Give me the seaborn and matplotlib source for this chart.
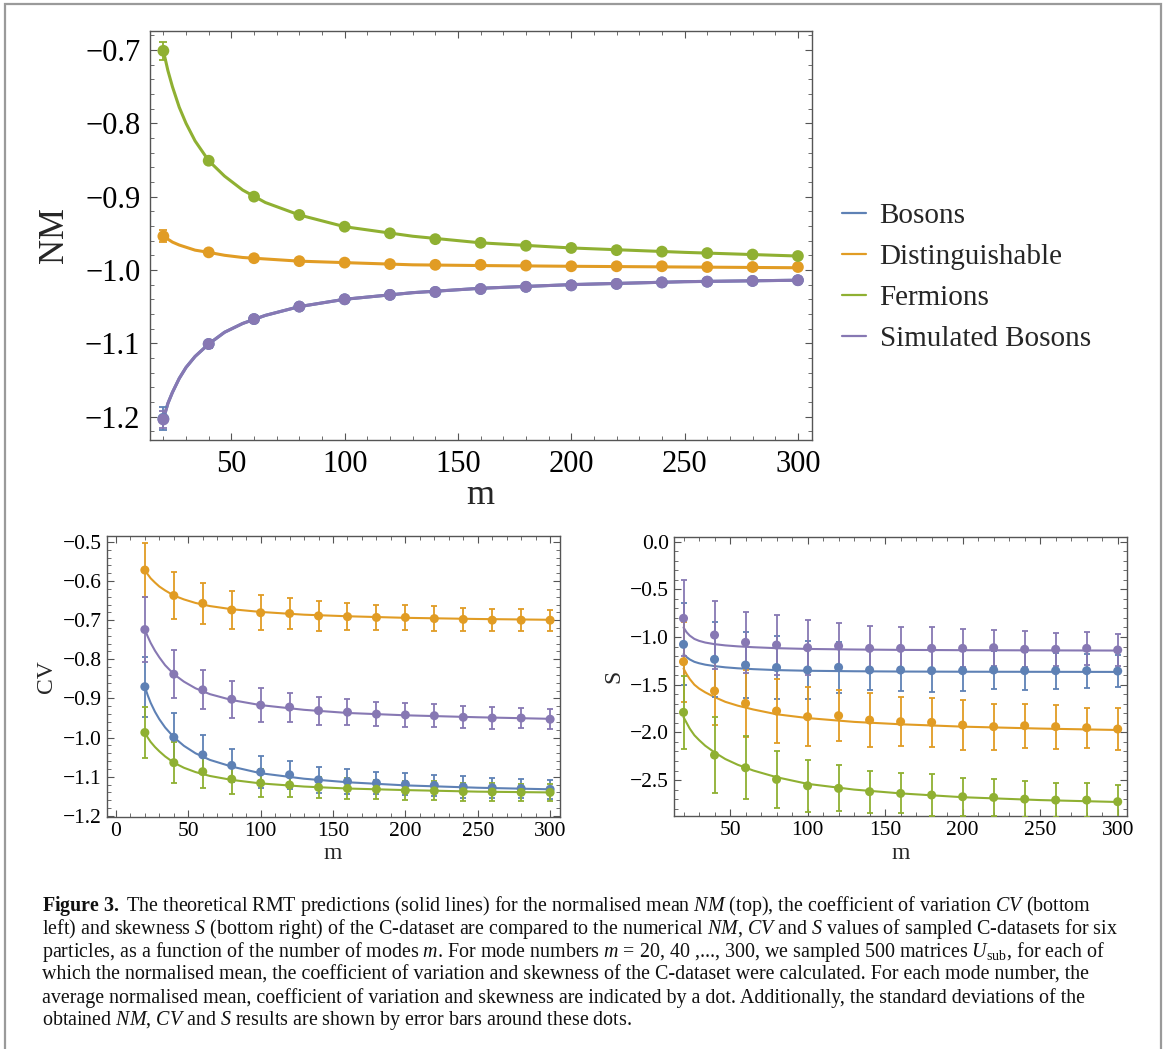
import numpy as np
import pandas as pd
import matplotlib
matplotlib.use("Agg")
import matplotlib.pyplot as plt
from matplotlib.ticker import MultipleLocator, FuncFormatter
from matplotlib.lines import Line2D
from matplotlib.patches import Rectangle
import seaborn as sns

# ---------------- data ----------------
series = ["Bosons", "Distinguishable", "Fermions", "Simulated Bosons"]
colors = ["#5E81B5", "#E19C24", "#8FB032", "#8778B3"]

m = [20, 40, 60, 80, 100, 120, 140, 160, 180, 200, 220, 240, 260, 280, 300]
m_curve = [20, 22, 24, 27, 30, 34, 40, 47, 55, 65, 80, 100, 130, 160, 200, 250, 300]

# Normalised mean NM (dots and error bars)
nm_bos = [-1.203, -1.101, -1.067, -1.050, -1.040, -1.034, -1.030, -1.026, -1.023, -1.021, -1.019, -1.017, -1.016, -1.015, -1.014]
nm_bos_err = [0.016, 0.006, 0.004, 0.003, 0.003, 0.002, 0.002, 0.002, 0.002, 0.002, 0.002, 0.002, 0.002, 0.002, 0.002]
nm_dis = [-0.954, -0.976, -0.984, -0.988, -0.990, -0.992, -0.993, -0.993, -0.994, -0.995, -0.995, -0.995, -0.996, -0.996, -0.996]
nm_dis_err = [0.008, 0.003, 0.002, 0.002, 0.002, 0.002, 0.002, 0.002, 0.002, 0.002, 0.002, 0.002, 0.002, 0.002, 0.002]
nm_fer = [-0.701, -0.851, -0.900, -0.925, -0.941, -0.950, -0.958, -0.963, -0.967, -0.970, -0.973, -0.975, -0.977, -0.979, -0.981]
nm_fer_err = [0.012, 0.004, 0.003, 0.002, 0.002, 0.002, 0.002, 0.002, 0.002, 0.002, 0.002, 0.002, 0.002, 0.002, 0.002]
nm_sim = [-1.204, -1.101, -1.067, -1.050, -1.040, -1.034, -1.030, -1.026, -1.023, -1.021, -1.019, -1.017, -1.016, -1.015, -1.014]
nm_sim_err = [0.012, 0.005, 0.004, 0.003, 0.003, 0.002, 0.002, 0.002, 0.002, 0.002, 0.002, 0.002, 0.002, 0.002, 0.002]

# NM theory curves (read at m_curve)
nm_bos_curve = [-1.203, -1.182, -1.167, -1.148, -1.133, -1.118, -1.101, -1.085, -1.073, -1.062, -1.050, -1.040, -1.031, -1.025, -1.020, -1.016, -1.014]
nm_dis_curve = [-0.954, -0.958, -0.962, -0.966, -0.969, -0.973, -0.976, -0.980, -0.983, -0.985, -0.988, -0.990, -0.993, -0.994, -0.995, -0.996, -0.997]
nm_fer_curve = [-0.701, -0.728, -0.750, -0.778, -0.800, -0.824, -0.851, -0.872, -0.891, -0.908, -0.925, -0.941, -0.954, -0.963, -0.970, -0.976, -0.981]
nm_sim_curve = [-1.204, -1.182, -1.167, -1.148, -1.133, -1.118, -1.101, -1.085, -1.073, -1.062, -1.050, -1.040, -1.031, -1.025, -1.020, -1.016, -1.014]

# Coefficient of variation CV
cv_bos = [-0.870, -0.999, -1.044, -1.071, -1.088, -1.095, -1.108, -1.112, -1.116, -1.119, -1.122, -1.126, -1.128, -1.130, -1.132]
cv_bos_err = [0.077, 0.062, 0.050, 0.043, 0.040, 0.035, 0.033, 0.031, 0.029, 0.028, 0.027, 0.027, 0.026, 0.025, 0.024]
cv_dis = [-0.572, -0.637, -0.657, -0.674, -0.681, -0.683, -0.689, -0.691, -0.693, -0.693, -0.696, -0.698, -0.700, -0.700, -0.700]
cv_dis_err = [0.070, 0.060, 0.053, 0.048, 0.045, 0.040, 0.039, 0.034, 0.033, 0.032, 0.031, 0.029, 0.028, 0.028, 0.027]
cv_fer = [-0.987, -1.064, -1.087, -1.106, -1.116, -1.121, -1.127, -1.130, -1.132, -1.135, -1.136, -1.138, -1.139, -1.140, -1.140]
cv_fer_err = [0.066, 0.052, 0.042, 0.038, 0.035, 0.030, 0.027, 0.026, 0.025, 0.025, 0.024, 0.023, 0.023, 0.022, 0.022]
cv_sim = [-0.724, -0.838, -0.878, -0.902, -0.917, -0.922, -0.931, -0.935, -0.940, -0.942, -0.944, -0.948, -0.950, -0.950, -0.953]
cv_sim_err = [0.083, 0.062, 0.050, 0.047, 0.044, 0.037, 0.036, 0.033, 0.031, 0.031, 0.030, 0.028, 0.027, 0.026, 0.025]

cv_bos_curve = [-0.870, -0.892, -0.911, -0.934, -0.953, -0.974, -0.999, -1.021, -1.040, -1.057, -1.074, -1.091, -1.105, -1.114, -1.122, -1.128, -1.132]
cv_dis_curve = [-0.572, -0.583, -0.593, -0.604, -0.614, -0.624, -0.637, -0.647, -0.656, -0.664, -0.672, -0.679, -0.686, -0.690, -0.694, -0.697, -0.699]
cv_fer_curve = [-0.987, -1.000, -1.011, -1.024, -1.035, -1.048, -1.064, -1.077, -1.088, -1.098, -1.108, -1.117, -1.125, -1.130, -1.134, -1.138, -1.140]
cv_sim_curve = [-0.724, -0.742, -0.758, -0.778, -0.795, -0.815, -0.838, -0.857, -0.874, -0.889, -0.904, -0.917, -0.929, -0.937, -0.943, -0.948, -0.952]

# Skewness S
s_bos = [-1.077, -1.234, -1.294, -1.320, -1.346, -1.318, -1.346, -1.346, -1.353, -1.353, -1.346, -1.353, -1.353, -1.353, -1.357]
s_bos_err = [0.43, 0.39, 0.35, 0.33, 0.30, 0.27, 0.21, 0.22, 0.22, 0.21, 0.20, 0.20, 0.19, 0.18, 0.17]
s_dis = [-1.259, -1.566, -1.696, -1.776, -1.836, -1.825, -1.871, -1.888, -1.895, -1.923, -1.940, -1.930, -1.940, -1.951, -1.965]
s_dis_err = [0.42, 0.36, 0.35, 0.34, 0.31, 0.27, 0.28, 0.26, 0.26, 0.26, 0.24, 0.23, 0.23, 0.21, 0.22]
s_fer = [-1.790, -2.238, -2.371, -2.493, -2.560, -2.587, -2.622, -2.640, -2.657, -2.675, -2.682, -2.700, -2.710, -2.710, -2.727]
s_fer_err = [0.38, 0.40, 0.33, 0.30, 0.27, 0.24, 0.22, 0.21, 0.22, 0.20, 0.19, 0.19, 0.18, 0.18, 0.18]
s_sim = [-0.804, -0.979, -1.056, -1.084, -1.112, -1.094, -1.119, -1.119, -1.119, -1.119, -1.112, -1.129, -1.129, -1.119, -1.136]
s_sim_err = [0.40, 0.36, 0.32, 0.31, 0.29, 0.24, 0.23, 0.22, 0.22, 0.20, 0.19, 0.19, 0.175, 0.17, 0.17]

s_bos_curve = [-1.180, -1.210, -1.235, -1.260, -1.275, -1.290, -1.305, -1.318, -1.328, -1.337, -1.347, -1.354, -1.359, -1.362, -1.364, -1.365, -1.366]
s_dis_curve = [-1.330, -1.390, -1.440, -1.500, -1.540, -1.580, -1.630, -1.680, -1.720, -1.760, -1.810, -1.850, -1.890, -1.915, -1.940, -1.960, -1.975]
s_fer_curve = [-1.840, -1.900, -1.960, -2.030, -2.080, -2.140, -2.210, -2.280, -2.340, -2.400, -2.470, -2.540, -2.600, -2.640, -2.680, -2.710, -2.730]
s_sim_curve = [-0.900, -0.950, -0.985, -1.020, -1.040, -1.058, -1.075, -1.088, -1.098, -1.107, -1.117, -1.125, -1.131, -1.135, -1.138, -1.140, -1.142]

caption_lines = [
    r"$\mathbf{Figure\ 3.}$ The theoretical RMT predictions (solid lines) for the normalised mean $\mathit{NM}$ (top), the coefficient of variation $\mathit{CV}$ (bottom",
    r"left) and skewness $\mathit{S}$ (bottom right) of the C-dataset are compared to the numerical $\mathit{NM}$, $\mathit{CV}$ and $\mathit{S}$ values of sampled C-datasets for six",
    r"particles, as a function of the number of modes $\mathit{m}$. For mode numbers $\mathit{m}$ = 20, 40 ,..., 300, we sampled 500 matrices $\mathit{U}_{\mathrm{sub}}$, for each of",
    r"which the normalised mean, the coefficient of variation and skewness of the C-dataset were calculated. For each mode number, the",
    r"average normalised mean, coefficient of variation and skewness are indicated by a dot. Additionally, the standard deviations of the",
    r"obtained $\mathit{NM}$, $\mathit{CV}$ and $\mathit{S}$ results are shown by error bars around these dots.",
]

# ---------------- style ----------------
sns.set_theme(style="ticks")
plt.rcParams["font.family"] = ["Liberation Serif", "DejaVu Serif"]
plt.rcParams["mathtext.fontset"] = "custom"
plt.rcParams["mathtext.rm"] = "Liberation Serif"
plt.rcParams["mathtext.it"] = "Liberation Serif:italic"
plt.rcParams["mathtext.bf"] = "Liberation Serif:bold"
plt.rcParams["axes.unicode_minus"] = True

W, H = 1168, 1049
fig = plt.figure(figsize=(W / 100, H / 100), dpi=100)
palette = dict(zip(series, colors))


def frac(left, top, right, bottom):
    return [left / W, 1 - bottom / H, (right - left) / W, (bottom - top) / H]


def build(points, errs, curves):
    pts = pd.DataFrame({
        "m": np.tile(m, 4),
        "v": np.concatenate(points),
        "e": np.concatenate(errs),
        "series": np.repeat(series, len(m)),
    })
    cur = pd.DataFrame({
        "m": np.tile(m_curve, 4),
        "v": np.concatenate(curves),
        "series": np.repeat(series, len(m_curve)),
    })
    return pts, cur


def draw(ax, pts, cur, lw, ms, elw, cap):
    sns.lineplot(data=cur, x="m", y="v", hue="series", palette=palette,
                 hue_order=series, ax=ax, legend=False, linewidth=lw,
                 sort=True, estimator=None)
    for s in series:
        d = pts[pts.series == s]
        ax.errorbar(d["m"], d["v"], yerr=d["e"], fmt="none", ecolor=palette[s],
                    elinewidth=elw, capsize=cap, capthick=elw, zorder=3)
    sns.scatterplot(data=pts, x="m", y="v", hue="series", palette=palette,
                    hue_order=series, ax=ax, legend=False, s=ms ** 2,
                    edgecolor="none", zorder=4)


def style_axes(ax, xmaj, xmin, ymaj, ymin, fs, pad):
    ax.xaxis.set_major_locator(MultipleLocator(xmaj))
    ax.xaxis.set_minor_locator(MultipleLocator(xmin))
    ax.yaxis.set_major_locator(MultipleLocator(ymaj))
    ax.yaxis.set_minor_locator(MultipleLocator(ymin))
    ax.yaxis.set_major_formatter(FuncFormatter(
        lambda v, p: ("\u2212" if v < -1e-9 else "") + ("%.1f" % abs(v))))
    ax.xaxis.set_major_formatter(FuncFormatter(lambda v, p: "%d" % round(v)))
    ax.tick_params(which="both", direction="in", top=True, right=True,
                   color="#555555", labelsize=fs, labelcolor="black", pad=pad)
    ax.tick_params(which="major", length=5, width=0.8)
    ax.tick_params(which="minor", length=2.8, width=0.6)
    for sp in ax.spines.values():
        sp.set_color("#555555")
        sp.set_linewidth(1.0)
    ax.set_facecolor("white")


# ---------------- top panel: NM ----------------
ax1 = fig.add_axes(frac(150, 31, 811.5, 440))
pts, cur = build([nm_bos, nm_dis, nm_fer, nm_sim],
                 [nm_bos_err, nm_dis_err, nm_fer_err, nm_sim_err],
                 [nm_bos_curve, nm_dis_curve, nm_fer_curve, nm_sim_curve])
draw(ax1, pts, cur, lw=2.2, ms=8.5, elw=1.3, cap=3)
ax1.set_xlim(14.1, 306)
ax1.set_ylim(-1.232, -0.674)
style_axes(ax1, 50, 10, 0.1, 0.02, 22, 7)
ax1.set_xlabel("m", fontsize=26, labelpad=0)
ax1.set_ylabel("NM", fontsize=25, labelpad=10)

handles = [Line2D([0], [0], color=c, lw=1.6) for c in colors]
fig.legend(handles, series, loc="upper left", bbox_to_anchor=(830 / W, 1 - 191 / H),
           frameon=False, fontsize=21, handlelength=0.85, handletextpad=0.45,
           labelspacing=0.5, borderaxespad=0)

# ---------------- bottom left: CV ----------------
ax2 = fig.add_axes(frac(106.5, 536, 559.8, 816.7))
pts, cur = build([cv_bos, cv_dis, cv_fer, cv_sim],
                 [cv_bos_err, cv_dis_err, cv_fer_err, cv_sim_err],
                 [cv_bos_curve, cv_dis_curve, cv_fer_curve, cv_sim_curve])
draw(ax2, pts, cur, lw=1.5, ms=6.5, elw=1.3, cap=2)
ax2.set_xlim(-6.5, 306.7)
ax2.set_ylim(-1.202, -0.485)
style_axes(ax2, 50, 10, 0.1, 0.02, 15.5, 3.5)
ax2.set_xlabel("m", fontsize=17, labelpad=2)
ax2.set_ylabel("CV", fontsize=17, labelpad=4)

# ---------------- bottom right: S ----------------
ax3 = fig.add_axes(frac(673.9, 536.7, 1127, 816))
pts, cur = build([s_bos, s_dis, s_fer, s_sim],
                 [s_bos_err, s_dis_err, s_fer_err, s_sim_err],
                 [s_bos_curve, s_dis_curve, s_fer_curve, s_sim_curve])
draw(ax3, pts, cur, lw=1.5, ms=6.5, elw=1.3, cap=2)
ax3.set_xlim(13.8, 306)
ax3.set_ylim(-2.877, 0.052)
style_axes(ax3, 50, 10, 0.5, 0.1, 15.5, 3.5)
ax3.set_xlabel("m", fontsize=17, labelpad=2)
ax3.set_ylabel("S", fontsize=17, labelpad=4)

# ---------------- caption ----------------
for i, line in enumerate(caption_lines):
    fig.text(42 / W, 1 - (906 + i * 23) / H, line, fontsize=14.4,
             ha="left", va="center", color="#111111")

# outer frame
fig.patches.append(Rectangle((5 / W, -0.01), (1161 - 5) / W, 1 - 4 / H + 0.01,
                             transform=fig.transFigure, fill=False,
                             edgecolor="#9a9a9a", linewidth=1.6))

fig.savefig("out.png", dpi=100, facecolor="white")
